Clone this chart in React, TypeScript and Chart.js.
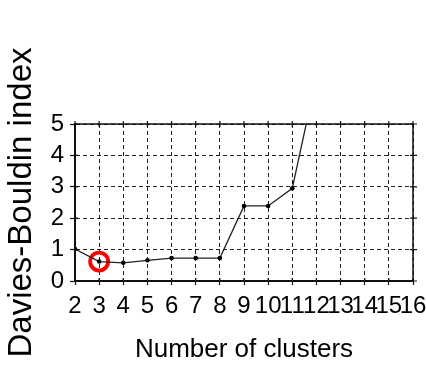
import React, { useEffect, useRef } from "react";
import { Chart, registerables } from "chart.js";

Chart.register(...registerables);

const clusters = [2, 3, 4, 5, 6, 7, 8, 9, 10, 11, 12];
const dbIndex = [1.02, 0.62, 0.58, 0.66, 0.73, 0.73, 0.73, 2.39, 2.39, 2.95, 6.5];
const highlightCluster = [3];
const highlightValue = [0.62];
const xTicks = [2, 3, 4, 5, 6, 7, 8, 9, 10, 11, 12, 13, 14, 15, 16];
const yTicks = [0, 1, 2, 3, 4, 5];
const xTitle = "Number of clusters";
const yTitle = "Davies-Bouldin index";

const FONT = "'Liberation Sans', Arial, Helvetica, sans-serif";

const framePlugin = {
  id: "frame",
  afterDraw(chart: any) {
    const { ctx, chartArea } = chart;
    const xs = chart.scales.x;
    const ys = chart.scales.y;
    ctx.save();
    ctx.strokeStyle = "#111";
    ctx.lineWidth = 1.5;
    ctx.setLineDash([]);
    ctx.strokeRect(chartArea.left, chartArea.top, chartArea.right - chartArea.left, chartArea.bottom - chartArea.top);
    ctx.lineWidth = 1.2;
    ctx.beginPath();
    xTicks.forEach((v) => {
      const px = xs.getPixelForValue(v);
      ctx.moveTo(px, chartArea.top - 3);
      ctx.lineTo(px, chartArea.top + 3);
      ctx.moveTo(px, chartArea.bottom - 3);
      ctx.lineTo(px, chartArea.bottom);
    });
    yTicks.forEach((v) => {
      const py = ys.getPixelForValue(v);
      ctx.moveTo(chartArea.right - 3, py);
      ctx.lineTo(chartArea.right + 4, py);
      ctx.moveTo(chartArea.left, py);
      ctx.lineTo(chartArea.left + 3, py);
    });
    ctx.stroke();
    ctx.restore();
  },
};

export default function App() {
  const ref = useRef<HTMLCanvasElement | null>(null);

  useEffect(() => {
    if (!ref.current) return;
    const chart = new Chart(ref.current, {
      type: "line",
      data: {
        datasets: [
          {
            data: clusters.map((c, i) => ({ x: c, y: dbIndex[i] })),
            borderColor: "#222",
            borderWidth: 1.3,
            pointRadius: 2.3,
            pointBackgroundColor: "#000",
            pointBorderColor: "#000",
            pointBorderWidth: 0,
            tension: 0,
          },
          {
            data: highlightCluster.map((c, i) => ({ x: c, y: highlightValue[i] })),
            showLine: false,
            pointRadius: 9,
            pointBorderWidth: 3.8,
            pointBorderColor: "#ff0000",
            pointBackgroundColor: "rgba(0,0,0,0)",
          },
        ],
      },
      options: {
        animation: false,
        responsive: false,
        maintainAspectRatio: false,
        layout: { padding: { left: 0, right: 13, top: 124, bottom: 0 } },
        plugins: { legend: { display: false }, tooltip: { enabled: false } },
        scales: {
          x: {
            type: "linear",
            min: 2,
            max: 16,
            afterFit: (s: any) => {
              s.height = 87;
              s.paddingLeft = 0;
              s.paddingRight = 0;
            },
            afterBuildTicks: (s: any) => {
              s.ticks = xTicks.map((v) => ({ value: v }));
            },
            ticks: {
              autoSkip: false,
              maxRotation: 0,
              minRotation: 0,
              padding: 7,
              color: "#000",
              font: { family: FONT, size: 24 },
            },
            grid: { color: "#222", lineWidth: 1, tickLength: 4, tickColor: "#111", tickWidth: 1.2 },
            border: { display: true, color: "#111", width: 2, dash: [4, 3] },
            title: {
              display: true,
              text: xTitle,
              color: "#000",
              font: { family: FONT, size: 26 },
              padding: { top: 0, bottom: 3 },
            },
          },
          y: {
            type: "linear",
            min: 0,
            max: 5,
            afterFit: (s: any) => {
              s.width = 75;
              s.paddingTop = 0;
              s.paddingBottom = 0;
            },
            afterBuildTicks: (s: any) => {
              s.ticks = yTicks.map((v) => ({ value: v }));
            },
            ticks: {
              autoSkip: false,
              padding: 6,
              color: "#000",
              font: { family: FONT, size: 24 },
            },
            grid: { color: "#222", lineWidth: 1, tickLength: 5, tickColor: "#111", tickWidth: 1.2 },
            border: { display: true, color: "#111", width: 2, dash: [4, 3] },
            title: {
              display: true,
              text: yTitle,
              color: "#000",
              font: { family: FONT, size: 33 },
              padding: { top: 2, bottom: 0 },
            },
          },
        },
      },
      plugins: [framePlugin],
    } as any);
    return () => chart.destroy();
  }, []);

  return (
    <div style={{ position: "fixed", left: 0, top: 0, width: 426, height: 368, background: "#fff" }}>
      <canvas ref={ref} width={426} height={368} style={{ width: 426, height: 368 }} />
    </div>
  );
}
